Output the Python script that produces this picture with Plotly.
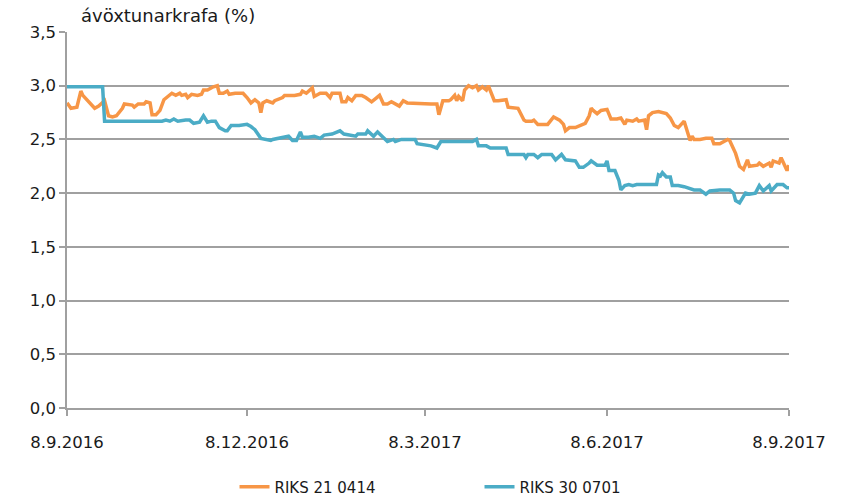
import plotly.graph_objects as go

# ---- data ----
orange_dates = [
    "2016-09-08", "2016-09-10", "2016-09-13", "2016-09-15", "2016-09-16", "2016-09-18", "2016-09-20",
    "2016-09-22", "2016-09-24", "2016-09-26", "2016-09-27", "2016-09-29", "2016-10-01", "2016-10-03",
    "2016-10-06", "2016-10-07", "2016-10-11", "2016-10-12", "2016-10-14", "2016-10-17", "2016-10-18",
    "2016-10-20", "2016-10-21", "2016-10-23", "2016-10-25", "2016-10-27", "2016-10-30", "2016-10-31",
    "2016-11-02", "2016-11-04", "2016-11-05", "2016-11-07", "2016-11-08", "2016-11-10", "2016-11-13",
    "2016-11-15", "2016-11-16", "2016-11-18", "2016-11-21", "2016-11-23", "2016-11-24", "2016-11-26",
    "2016-11-28", "2016-11-29", "2016-12-02", "2016-12-06", "2016-12-08", "2016-12-10", "2016-12-12",
    "2016-12-14", "2016-12-15", "2016-12-16", "2016-12-18", "2016-12-21", "2016-12-22", "2016-12-26",
    "2016-12-27", "2017-01-01", "2017-01-04", "2017-01-05", "2017-01-07", "2017-01-10", "2017-01-11",
    "2017-01-14", "2017-01-17", "2017-01-19", "2017-01-20", "2017-01-24", "2017-01-25", "2017-01-27",
    "2017-01-28", "2017-01-30", "2017-02-01", "2017-02-04", "2017-02-06", "2017-02-09", "2017-02-11",
    "2017-02-13", "2017-02-15", "2017-02-17", "2017-02-19", "2017-02-21", "2017-02-23", "2017-02-25",
    "2017-02-27", "2017-03-11", "2017-03-14", "2017-03-15", "2017-03-16", "2017-03-17", "2017-03-20",
    "2017-03-21", "2017-03-23", "2017-03-24", "2017-03-25", "2017-03-27", "2017-03-28", "2017-03-30",
    "2017-04-01", "2017-04-03", "2017-04-04", "2017-04-06", "2017-04-08", "2017-04-09", "2017-04-12",
    "2017-04-14", "2017-04-18", "2017-04-19", "2017-04-24", "2017-04-27", "2017-04-28", "2017-05-01",
    "2017-05-02", "2017-05-04", "2017-05-09", "2017-05-11", "2017-05-12", "2017-05-15", "2017-05-17",
    "2017-05-18", "2017-05-20", "2017-05-23", "2017-05-26", "2017-05-28", "2017-05-30", "2017-05-31",
    "2017-06-01", "2017-06-03", "2017-06-05", "2017-06-08", "2017-06-10", "2017-06-13", "2017-06-15",
    "2017-06-17", "2017-06-18", "2017-06-21", "2017-06-23", "2017-06-24", "2017-06-27", "2017-06-28",
    "2017-06-29", "2017-07-01", "2017-07-04", "2017-07-08", "2017-07-10", "2017-07-12", "2017-07-14",
    "2017-07-17", "2017-07-20", "2017-07-21", "2017-07-22", "2017-07-25", "2017-07-28", "2017-07-31",
    "2017-08-01", "2017-08-04", "2017-08-08", "2017-08-09", "2017-08-12", "2017-08-14", "2017-08-16",
    "2017-08-18", "2017-08-19", "2017-08-23", "2017-08-24", "2017-08-26", "2017-08-29", "2017-08-30",
    "2017-08-31", "2017-09-03", "2017-09-04", "2017-09-06", "2017-09-07", "2017-09-08",
]
orange_values = [
    2.84, 2.79, 2.80, 2.95, 2.91, 2.87, 2.84,
    2.79, 2.81, 2.84, 2.86, 2.72, 2.71, 2.72,
    2.79, 2.83, 2.82, 2.80, 2.83, 2.83, 2.85,
    2.84, 2.73, 2.73, 2.77, 2.87, 2.91, 2.93,
    2.91, 2.93, 2.91, 2.92, 2.89, 2.92, 2.91,
    2.92, 2.96, 2.96, 2.99, 3.00, 2.93, 2.93,
    2.95, 2.92, 2.93, 2.93, 2.89, 2.84, 2.87,
    2.84, 2.75, 2.84, 2.86, 2.84, 2.86, 2.89,
    2.91, 2.91, 2.92, 2.95, 2.93, 2.98, 2.90,
    2.93, 2.93, 2.89, 2.93, 2.93, 2.85, 2.85,
    2.89, 2.86, 2.91, 2.91, 2.89, 2.85, 2.88,
    2.91, 2.83, 2.83, 2.85, 2.83, 2.81, 2.86,
    2.84, 2.83, 2.83, 2.73, 2.81, 2.86, 2.86,
    2.87, 2.91, 2.86, 2.90, 2.86, 2.96, 3.00,
    2.98, 3.00, 2.96, 2.99, 2.96, 3.00, 2.86,
    2.86, 2.87, 2.80, 2.79, 2.68, 2.67, 2.67,
    2.68, 2.64, 2.64, 2.68, 2.71, 2.68, 2.64,
    2.58, 2.61, 2.61, 2.63, 2.65, 2.72, 2.79,
    2.77, 2.74, 2.77, 2.78, 2.69, 2.69, 2.70,
    2.64, 2.68, 2.67, 2.69, 2.67, 2.68, 2.59,
    2.72, 2.75, 2.76, 2.74, 2.70, 2.63, 2.61,
    2.67, 2.49, 2.53, 2.50, 2.50, 2.51, 2.51,
    2.46, 2.46, 2.50, 2.49, 2.37, 2.25, 2.22,
    2.31, 2.25, 2.26, 2.28, 2.25, 2.28, 2.24,
    2.30, 2.28, 2.33, 2.26, 2.21, 2.26,
]

teal_dates = [
    "2016-09-08", "2016-09-26", "2016-09-27", "2016-10-26", "2016-10-28", "2016-10-30", "2016-11-01",
    "2016-11-03", "2016-11-07", "2016-11-09", "2016-11-11", "2016-11-14", "2016-11-16", "2016-11-18",
    "2016-11-20", "2016-11-22", "2016-11-24", "2016-11-27", "2016-11-28", "2016-11-30", "2016-12-04",
    "2016-12-08", "2016-12-10", "2016-12-12", "2016-12-15", "2016-12-17", "2016-12-20", "2016-12-21",
    "2016-12-26", "2016-12-29", "2016-12-31", "2017-01-02", "2017-01-04", "2017-01-05", "2017-01-08",
    "2017-01-11", "2017-01-14", "2017-01-16", "2017-01-20", "2017-01-24", "2017-01-26", "2017-01-29",
    "2017-02-01", "2017-02-02", "2017-02-06", "2017-02-07", "2017-02-10", "2017-02-12", "2017-02-15",
    "2017-02-17", "2017-02-20", "2017-02-21", "2017-02-24", "2017-03-01", "2017-03-03", "2017-03-04",
    "2017-03-07", "2017-03-11", "2017-03-14", "2017-03-16", "2017-04-01", "2017-04-03", "2017-04-04",
    "2017-04-08", "2017-04-10", "2017-04-18", "2017-04-19", "2017-04-27", "2017-04-28", "2017-04-29",
    "2017-05-02", "2017-05-04", "2017-05-06", "2017-05-11", "2017-05-13", "2017-05-16", "2017-05-18",
    "2017-05-23", "2017-05-25", "2017-05-27", "2017-05-30", "2017-05-31", "2017-06-03", "2017-06-07",
    "2017-06-08", "2017-06-09", "2017-06-12", "2017-06-14", "2017-06-15", "2017-06-17", "2017-06-19",
    "2017-06-21", "2017-06-23", "2017-07-03", "2017-07-04", "2017-07-05", "2017-07-06", "2017-07-08",
    "2017-07-10", "2017-07-11", "2017-07-14", "2017-07-17", "2017-07-22", "2017-07-25", "2017-07-28",
    "2017-07-30", "2017-08-04", "2017-08-09", "2017-08-11", "2017-08-12", "2017-08-14", "2017-08-17",
    "2017-08-19", "2017-08-22", "2017-08-24", "2017-08-26", "2017-08-29", "2017-08-30", "2017-09-02",
    "2017-09-05", "2017-09-07", "2017-09-08",
]
teal_values = [
    2.99, 2.99, 2.67, 2.67, 2.68, 2.67, 2.69,
    2.67, 2.68, 2.68, 2.65, 2.66, 2.72, 2.66,
    2.67, 2.67, 2.61, 2.58, 2.58, 2.63, 2.63,
    2.64, 2.62, 2.59, 2.51, 2.50, 2.49, 2.50,
    2.52, 2.53, 2.49, 2.49, 2.57, 2.52, 2.52,
    2.53, 2.51, 2.54, 2.55, 2.58, 2.55, 2.54,
    2.53, 2.55, 2.55, 2.58, 2.53, 2.57, 2.52,
    2.48, 2.50, 2.48, 2.50, 2.50, 2.50, 2.46,
    2.45, 2.44, 2.42, 2.48, 2.48, 2.50, 2.44,
    2.44, 2.42, 2.42, 2.36, 2.36, 2.33, 2.36,
    2.36, 2.33, 2.36, 2.36, 2.31, 2.36, 2.31,
    2.30, 2.24, 2.24, 2.28, 2.30, 2.26, 2.26,
    2.30, 2.21, 2.21, 2.12, 2.03, 2.07, 2.08,
    2.07, 2.08, 2.08, 2.17, 2.16, 2.19, 2.15,
    2.15, 2.07, 2.07, 2.06, 2.03, 2.03, 1.99,
    2.02, 2.03, 2.03, 2.00, 1.93, 1.91, 2.00,
    1.99, 2.00, 2.07, 2.02, 2.07, 2.02, 2.08,
    2.08, 2.05, 2.05,
]

series_names = ["RIKS 21 0414", "RIKS 30 0701"]
x_tick_dates = ["2016-09-08", "2016-12-08", "2017-03-08", "2017-06-08", "2017-09-08"]
x_tick_labels = ["8.9.2016", "8.12.2016", "8.3.2017", "8.6.2017", "8.9.2017"]
y_ticks = [0, 0.5, 1.0, 1.5, 2.0, 2.5, 3.0, 3.5]
y_title = "ávöxtunarkrafa (%)"

ORANGE = "#F79646"
TEAL = "#4BACC6"
GRID = "#A0A0A0"
FONT = "DejaVu Sans, Liberation Sans, sans-serif"

fig = go.Figure()
fig.add_trace(go.Scatter(x=orange_dates, y=orange_values, name=series_names[0],
                         mode="lines", line=dict(color=ORANGE, width=3.5)))
fig.add_trace(go.Scatter(x=teal_dates, y=teal_values, name=series_names[1],
                         mode="lines", line=dict(color=TEAL, width=3.5)))

fig.update_layout(
    width=846, height=501,
    margin=dict(l=67, r=57, t=32, b=93, autoexpand=False),
    paper_bgcolor="white", plot_bgcolor="white",
    separators=", ",
    font=dict(family=FONT, size=16, color="#1a1a1a"),
    showlegend=True,
    legend=dict(orientation="h", x=0.232, xanchor="left", y=-0.21, yanchor="middle",
                font=dict(size=15), entrywidth=200, entrywidthmode="pixels",
                traceorder="normal"),
    annotations=[dict(text=y_title, xref="paper", yref="paper", x=0.016, y=1.0,
                      xanchor="left", yanchor="middle", yshift=17, showarrow=False,
                      font=dict(size=18, family=FONT))],
)
fig.update_xaxes(
    type="date", range=[x_tick_dates[0], x_tick_dates[-1]],
    tickmode="array", tickvals=x_tick_dates, ticktext=x_tick_labels,
    showgrid=False, showline=True, linecolor=GRID, linewidth=1.5,
    ticks="outside", ticklen=6, tickcolor=GRID, tickwidth=1.5,
    zeroline=False, ticklabelstandoff=12, tickfont=dict(size=16.5),
)
fig.update_yaxes(
    range=[0, 3.5], tickmode="array", tickvals=y_ticks, tickformat=".1f",
    showgrid=True, gridcolor=GRID, gridwidth=1.5,
    showline=True, linecolor=GRID, linewidth=1.5,
    ticks="outside", ticklen=6, tickcolor=GRID, tickwidth=1.5,
    zeroline=False, tickfont=dict(size=16.5),
)

fig.write_html("out.html", config={"displayModeBar": False},
               post_script="document.body.style.margin='0';")
